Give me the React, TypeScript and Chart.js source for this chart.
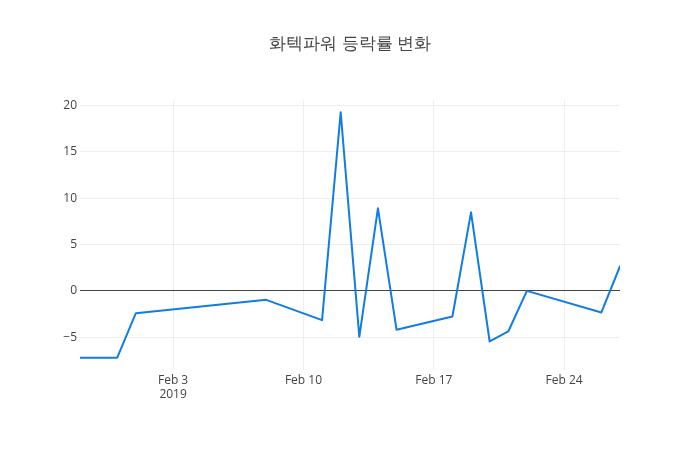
import React, { useEffect, useRef } from "react";
import { Chart, registerables } from "chart.js";

Chart.register(...registerables);

const TITLE = "화텍파워 등락률 변화";
const dates = [
  "2019-01-29", "2019-01-31", "2019-02-01", "2019-02-08", "2019-02-11",
  "2019-02-12", "2019-02-13", "2019-02-14", "2019-02-15", "2019-02-18",
  "2019-02-19", "2019-02-20", "2019-02-21", "2019-02-22", "2019-02-26",
  "2019-02-27",
];
const changes = [
  -7.2, -7.2, -2.4, -0.96, -3.15, 19.25, -4.95, 8.9, -4.18, -2.76,
  8.47, -5.45, -4.37, 0.0, -2.32, 2.66,
];
const xTickDates = ["2019-02-03", "2019-02-10", "2019-02-17", "2019-02-24"];
const yTicks = [-5, 0, 5, 10, 15, 20];
const MONTHS = ["Jan", "Feb", "Mar", "Apr", "May", "Jun", "Jul", "Aug", "Sep", "Oct", "Nov", "Dec"];

const toMs = (s: string) => {
  const [y, m, d] = s.split("-").map(Number);
  return Date.UTC(y, m - 1, d);
};

const FONT = "'Open Sans', 'Noto Sans', sans-serif";

export default function App() {
  const ref = useRef<HTMLCanvasElement | null>(null);

  useEffect(() => {
    if (!ref.current) return;
    const xs = dates.map(toMs);
    const yMin = Math.min(...changes);
    const yMax = Math.max(...changes);
    const pad = (yMax - yMin) * 0.05;

    const titlePlugin = {
      id: "plotTitle",
      afterDraw(chart: any) {
        const ctx = chart.ctx;
        ctx.save();
        ctx.font = `17px ${FONT}`;
        ctx.fillStyle = "#444";
        ctx.textAlign = "center";
        ctx.textBaseline = "middle";
        ctx.fillText(TITLE, 350, 44);
        ctx.restore();
      },
    };

    const chart = new Chart(ref.current, {
      type: "line",
      data: {
        datasets: [
          {
            data: xs.map((x, i) => ({ x, y: changes[i] })),
            borderColor: "rgb(16,124,228)",
            borderWidth: 2,
            borderJoinStyle: "round",
            borderCapStyle: "round",
            pointRadius: 0,
            pointHoverRadius: 0,
            tension: 0,
            fill: false,
          },
        ],
      },
      options: {
        animation: false,
        responsive: false,
        maintainAspectRatio: false,
        layout: { padding: { top: 100, right: 80, left: 0, bottom: 0 } },
        plugins: { legend: { display: false }, tooltip: { enabled: false }, title: { display: false } },
        scales: {
          x: {
            type: "linear",
            min: xs[0],
            max: xs[xs.length - 1],
            border: { display: false },
            grid: { color: "#eee", lineWidth: 1, drawTicks: false },
            afterBuildTicks: (scale: any) => {
              scale.ticks = xTickDates.map((d) => ({ value: toMs(d) }));
            },
            afterFit: (scale: any) => {
              scale.height = 80;
            },
            ticks: {
              autoSkip: false,
              maxRotation: 0,
              padding: 3,
              color: "#444",
              font: { family: FONT, size: 12 },
              callback: (v: any, i: number) => {
                const d = new Date(Number(v));
                const lbl = `${MONTHS[d.getUTCMonth()]} ${d.getUTCDate()}`;
                return i === 0 ? [lbl, String(d.getUTCFullYear())] : lbl;
              },
            },
          },
          y: {
            type: "linear",
            min: yMin - pad,
            max: yMax + pad,
            border: { display: false },
            grid: {
              drawTicks: false,
              lineWidth: 1,
              color: (c: any) => (c.tick && c.tick.value === 0 ? "#444" : "#eee"),
            },
            afterBuildTicks: (scale: any) => {
              scale.ticks = yTicks.map((v) => ({ value: v }));
            },
            afterFit: (scale: any) => {
              scale.width = 80;
            },
            ticks: {
              padding: 3,
              color: "#444",
              font: { family: FONT, size: 12 },
              callback: (v: any) => (Number(v) < 0 ? "\u2212" + Math.abs(Number(v)) : String(v)),
            },
          },
        },
      },
      plugins: [titlePlugin],
    });
    return () => chart.destroy();
  }, []);

  return (
    <div style={{ position: "fixed", left: 0, top: 0, width: 700, height: 450, background: "#fff" }}>
      <canvas ref={ref} width={700} height={450} style={{ width: 700, height: 450, display: "block" }} />
    </div>
  );
}
